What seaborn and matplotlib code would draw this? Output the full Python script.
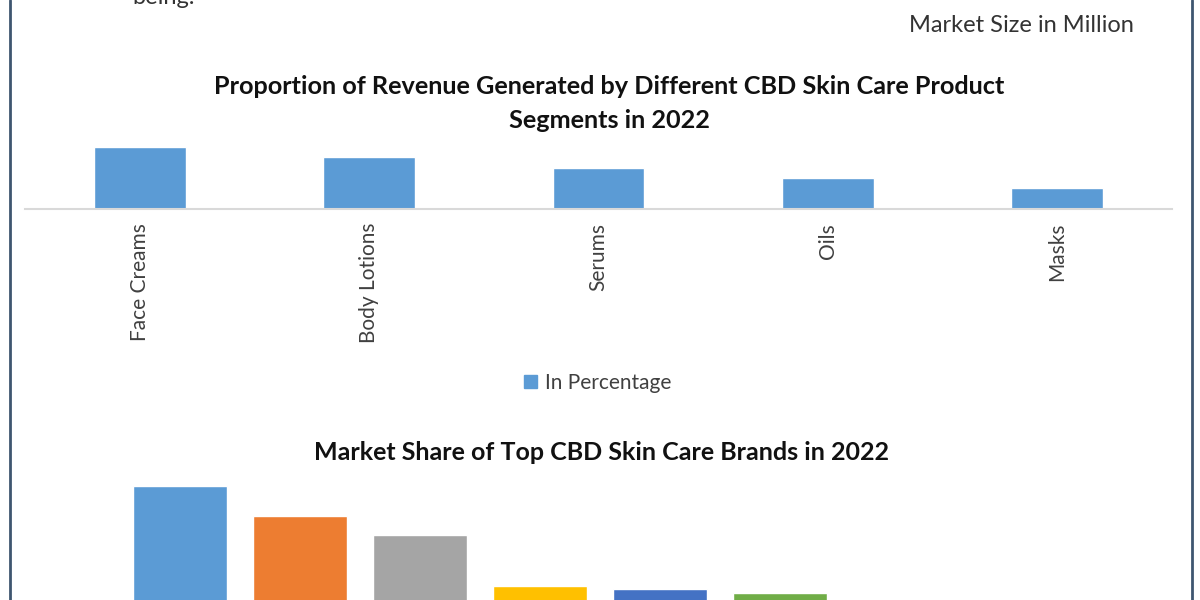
import matplotlib
matplotlib.use('Agg')
import matplotlib.pyplot as plt
import seaborn as sns
from matplotlib.lines import Line2D
from matplotlib.patches import Patch

# top chart: share of revenue by product segment (%)
segments = ['Face Creams', 'Body Lotions', 'Serums', 'Oils', 'Masks']
segment_share = [30, 25, 20, 15, 10]

# bottom chart: market share of top brands (cut off in the source image)
brands = ['Brand 1', 'Brand 2', 'Brand 3', 'Brand 4', 'Brand 5', 'Brand 6']
brand_share = [22, 17, 14, 5.6, 5.1, 4.5]
brand_colors = ['#5B9BD5', '#ED7D31', '#A5A5A5', '#FFC000', '#4472C4', '#70AD47']

sns.set_style('white')
plt.rcParams['font.family'] = ['Lato', 'DejaVu Sans']

W, H = 1200, 600
fig = plt.figure(figsize=(12, 6), dpi=100)


def px(x, y):
    return x / W, 1 - y / H


# --- top chart ---
ax1 = fig.add_axes([25 / W, 1 - 209 / H, 1147 / W, 68 / H])
sns.barplot(x=segments, y=segment_share, color='#5B9BD5', saturation=1,
            width=0.4, ax=ax1)
ax1.set_ylim(0, 33)
ax1.set_xlim(-0.5, len(segments) - 0.5)
ax1.set_xlabel('')
ax1.set_ylabel('')
ax1.set_yticks([])
sns.despine(ax=ax1, left=True)
ax1.spines['bottom'].set_color('#D9D9D9')
ax1.spines['bottom'].set_linewidth(1.5)
ax1.tick_params(axis='x', length=0, pad=10, labelsize=15, labelcolor='#404040')
plt.setp(ax1.get_xticklabels(), rotation=90)

fig.text(*px(609, 87), 'Proportion of Revenue Generated by Different CBD Skin Care Product',
         ha='center', va='center', fontsize=18.2, fontweight='bold', color='#111111')
fig.text(*px(609, 121), 'Segments in 2022',
         ha='center', va='center', fontsize=18.2, fontweight='bold', color='#111111')

fig.legend(handles=[Patch(color='#5B9BD5', label='In Percentage')],
           loc='center', bbox_to_anchor=px(598, 383), frameon=False,
           fontsize=15, handlelength=0.6, handleheight=0.6, handletextpad=0.4,
           labelcolor='#404040')

# --- bottom chart (runs off the bottom of the image) ---
ax2 = fig.add_axes([120 / W, -20 / H, 720 / W, 150 / H])
sns.barplot(x=brands, y=brand_share, hue=brands, palette=brand_colors,
            saturation=1, width=0.79, legend=False, ax=ax2)
ax2.set_ylim(0, 24.6)
ax2.set_xlim(-0.5, len(brands) - 0.5)
ax2.axis('off')

fig.text(*px(602, 453), 'Market Share of Top CBD Skin Care Brands in 2022',
         ha='center', va='center', fontsize=18, fontweight='bold', color='#111111')

# --- surrounding text and frame ---
fig.text(*px(1021, 25), 'Market Size in Million', ha='center', va='center',
         fontsize=17, color='#333333')
fig.text(*px(132, 4), 'being.', ha='left', va='baseline', fontsize=17, color='#333333')

for x in (9.5, 1192):
    fig.add_artist(Line2D([x / W, x / W], [0, 1], color='#3F5670', linewidth=2))

fig.savefig('out.png', dpi=100)
